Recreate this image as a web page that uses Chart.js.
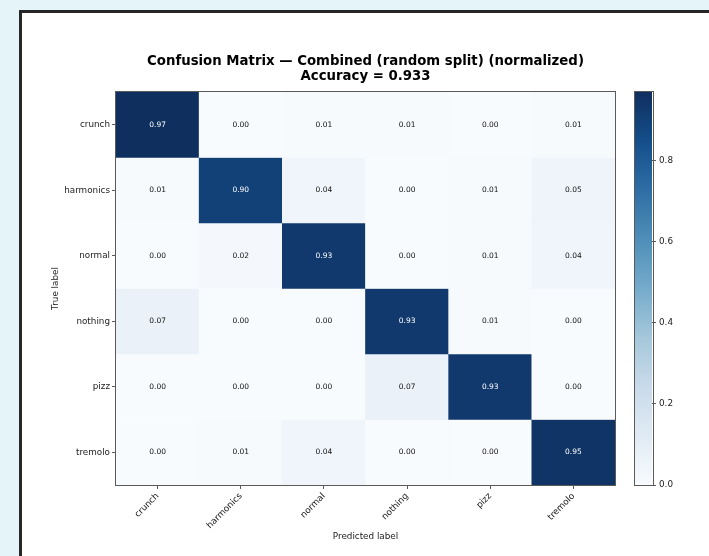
<!DOCTYPE html>
<html>
<head>
<meta charset="utf-8">
<script src="https://cdn.jsdelivr.net/npm/chart.js@4/dist/chart.umd.min.js"></script>
<style>
  html, body { margin: 0; padding: 0; }
  body {
    width: 709px; height: 556px; overflow: hidden; position: relative;
    background: #e5f4f9; font-family: "DejaVu Sans", sans-serif;
  }
  #frame {
    position: absolute; left: 19px; top: 10px; width: 720px; height: 580px;
    background: #ffffff; border: 3px solid #262626; box-sizing: border-box;
  }
  #main { position: absolute; left: 0; top: 0; }
  #cbar { position: absolute; left: 600px; top: 0; }
</style>
</head>
<body>
<div id="frame"></div>
<canvas id="main" width="709" height="556"></canvas>
<canvas id="cbar" width="109" height="556"></canvas>
<script>
// Class names (rows = true label, columns = predicted label)
const trueLabels = ['crunch', 'harmonics', 'normal', 'nothing', 'pizz', 'tremolo'];
const predictedLabels = ['crunch', 'harmonics', 'normal', 'nothing', 'pizz', 'tremolo'];

// Normalized confusion matrix rows
const rowCrunch    = [0.97, 0.00, 0.01, 0.01, 0.00, 0.01];
const rowHarmonics = [0.01, 0.90, 0.04, 0.00, 0.01, 0.05];
const rowNormal    = [0.00, 0.02, 0.93, 0.00, 0.01, 0.04];
const rowNothing   = [0.07, 0.00, 0.00, 0.93, 0.01, 0.00];
const rowPizz      = [0.00, 0.00, 0.00, 0.07, 0.93, 0.00];
const rowTremolo   = [0.00, 0.01, 0.04, 0.00, 0.00, 0.95];

const accuracy = 0.933;
const colorbarTicks = [0.0, 0.2, 0.4, 0.6, 0.8];

const matrix = [rowCrunch, rowHarmonics, rowNormal, rowNothing, rowPizz, rowTremolo];
const vmax = Math.max(...matrix.flat());

// "Blues" sequential colour map, slightly muted
const BLUES = ['#f7fbff', '#deebf7', '#c6dbef', '#9ecae1', '#6baed6',
               '#4292c6', '#2171b5', '#08519c', '#08306b'];
const MUTE = 0.2;
function hexRgb(h) {
  return [parseInt(h.slice(1, 3), 16), parseInt(h.slice(3, 5), 16), parseInt(h.slice(5, 7), 16)];
}
function blues(t) {
  t = Math.max(0, Math.min(1, t));
  const p = t * (BLUES.length - 1);
  const i = Math.min(BLUES.length - 2, Math.floor(p));
  const f = p - i;
  const a = hexRgb(BLUES[i]), b = hexRgb(BLUES[i + 1]);
  const c = a.map((v, k) => v + (b[k] - v) * f);
  const lum = 0.299 * c[0] + 0.587 * c[1] + 0.114 * c[2];
  const m = c.map(v => Math.round(v + (lum - v) * MUTE));
  return `rgb(${m[0]},${m[1]},${m[2]})`;
}

const FONT = 'DejaVu Sans';
const TEXT = '#222222';
const SPINE = '#5a5a5a';

// Outline around the plotting area
const outline = {
  id: 'outline',
  afterDatasetsDraw(chart) {
    const { ctx, chartArea: a } = chart;
    ctx.save();
    ctx.strokeStyle = SPINE;
    ctx.lineWidth = 1;
    ctx.strokeRect(Math.round(a.left) - 0.5, Math.round(a.top) - 0.5,
                   Math.round(a.right - a.left) + 1, Math.round(a.bottom - a.top) + 1);
    ctx.restore();
  }
};

// Value annotations centred in each cell
const cellValues = {
  id: 'cellValues',
  afterDatasetsDraw(chart) {
    const { ctx } = chart;
    ctx.save();
    ctx.font = `7.5px "${FONT}"`;
    ctx.textAlign = 'center';
    ctx.textBaseline = 'middle';
    chart.data.datasets.forEach((ds, i) => {
      const meta = chart.getDatasetMeta(i);
      meta.data.forEach((bar, j) => {
        const v = ds.values[j];
        const { x, y } = bar.getCenterPoint();
        ctx.fillStyle = v > vmax / 2 ? '#ffffff' : '#111111';
        ctx.fillText(v.toFixed(2), x, y);
      });
    });
    ctx.restore();
  }
};

new Chart(document.getElementById('main'), {
  type: 'bar',
  data: {
    labels: predictedLabels,
    datasets: matrix.map((row, i) => ({
      label: trueLabels[i],
      data: row.map(() => [i, i + 1]),
      values: row,
      backgroundColor: row.map(v => blues(v / vmax)),
      borderWidth: 0,
      grouped: false,
      barPercentage: 1,
      categoryPercentage: 1
    }))
  },
  options: {
    responsive: false,
    animation: false,
    layout: { padding: { left: 0, right: 94, top: 0, bottom: 10 } },
    plugins: {
      legend: { display: false },
      tooltip: { enabled: false },
      title: {
        display: true,
        fullSize: false,
        text: ['Confusion Matrix \u2014 Combined (random split) (normalized)',
               'Accuracy = ' + accuracy.toFixed(3)],
        color: '#000000',
        font: { family: FONT, size: 13.3, weight: 'bold', lineHeight: '14.5px' },
        padding: { top: 54.75, bottom: 8.25 }
      }
    },
    scales: {
      x: {
        type: 'category',
        offset: true,
        grid: { drawOnChartArea: false, drawTicks: true, tickLength: 4, tickColor: SPINE, offset: false },
        border: { display: false },
        ticks: { minRotation: 45, maxRotation: 45, padding: 2, color: TEXT, font: { family: FONT, size: 8.8 } },
        title: { display: true, text: 'Predicted label', color: TEXT,
                 font: { family: FONT, size: 8.8 }, padding: { top: 0, bottom: 4 } },
        afterFit(s) { s.height = 61; }
      },
      y: {
        type: 'linear',
        reverse: true,
        min: 0,
        max: trueLabels.length,
        afterBuildTicks(s) { s.ticks = trueLabels.map((_, i) => ({ value: i + 0.5 })); },
        grid: { drawOnChartArea: false, drawTicks: true, tickLength: 4, tickColor: SPINE },
        border: { display: false },
        ticks: { callback: (v, i) => trueLabels[i], padding: 2, color: TEXT, font: { family: FONT, size: 8.8 } },
        title: { display: true, text: 'True label', color: TEXT,
                 font: { family: FONT, size: 8.8 }, padding: { top: 50.5, bottom: 0 } },
        afterFit(s) { s.width = 116; }
      }
    }
  },
  plugins: [cellValues, outline]
});

// Colour bar: one floating bar spanning 0..vmax filled with the colour map
function colorbarFill(context) {
  const area = context.chart.chartArea;
  if (!area) return blues(0.5);
  const g = context.chart.ctx.createLinearGradient(0, area.bottom, 0, area.top);
  const n = 48;
  for (let k = 0; k <= n; k++) g.addColorStop(k / n, blues(k / n));
  return g;
}

new Chart(document.getElementById('cbar'), {
  type: 'bar',
  data: {
    labels: [''],
    datasets: [{
      data: [[0, vmax]],
      backgroundColor: colorbarFill,
      borderWidth: 0,
      barPercentage: 1,
      categoryPercentage: 1
    }]
  },
  options: {
    responsive: false,
    animation: false,
    layout: { padding: { left: 34.5, right: 0, top: 92, bottom: 71 } },
    plugins: { legend: { display: false }, tooltip: { enabled: false } },
    scales: {
      x: { display: false },
      y: {
        position: 'right',
        min: 0,
        max: vmax,
        afterBuildTicks(s) { s.ticks = colorbarTicks.map(v => ({ value: v })); },
        grid: { drawOnChartArea: false, drawTicks: true, tickLength: 4, tickColor: SPINE },
        border: { display: false },
        ticks: { callback: v => v.toFixed(1), padding: 3, color: TEXT, font: { family: FONT, size: 8.8 } },
        afterFit(s) { s.width = 57; }
      }
    }
  },
  plugins: [outline]
});
</script>
</body>
</html>
